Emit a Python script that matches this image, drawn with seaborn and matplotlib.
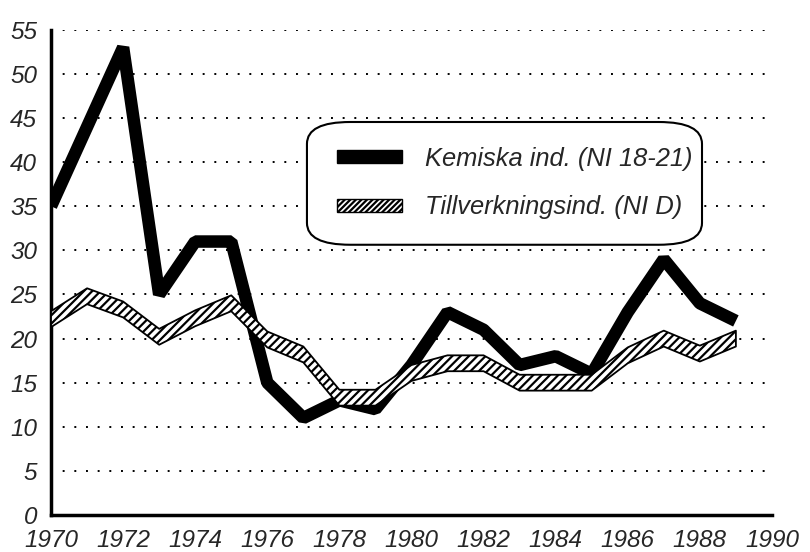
import matplotlib
matplotlib.use('Agg')
import matplotlib.pyplot as plt
import seaborn as sns
import pandas as pd
from matplotlib.patches import Patch, Rectangle, FancyBboxPatch
from matplotlib.legend_handler import HandlerPatch

# Data
years = list(range(1970, 1990))
kemiska = [35, 44, 53, 25, 31, 31, 15, 11, 13, 12, 17, 23, 21, 17, 18, 16, 23, 29, 24, 22]
tillverkning = [22.2, 24.8, 23.3, 20.2, 22.3, 24.0, 19.9, 18.2, 13.3, 13.3, 16.1, 17.2, 17.2, 15.0, 15.0, 15.0, 18.1, 20.0, 18.3, 20.0]
yticks = list(range(0, 60, 5))
xticks = list(range(1970, 1992, 2))

label_kem = 'Kemiska ind. (NI 18-21)'
label_till = 'Tillverkningsind. (NI D)'

df = pd.DataFrame({'År': years, 'Kemiska': kemiska, 'Tillverkning': tillverkning})

sns.set_style('white')
plt.rcParams['font.family'] = ['Liberation Sans', 'DejaVu Sans']
plt.rcParams['font.style'] = 'italic'
plt.rcParams['hatch.linewidth'] = 1.6

fig = plt.figure(figsize=(8.1, 5.52), dpi=100)
ax = fig.add_axes([0.063, 0.067, 0.890, 0.879])

# dotted grid lines
for v in yticks[1:]:
    ax.axhline(v, color='black', lw=1.4, linestyle=(0, (1, 5)), zorder=1)

# black thick line
sns.lineplot(data=df, x='År', y='Kemiska', ax=ax, color='black', lw=9,
             solid_joinstyle='bevel', solid_capstyle='butt', zorder=3)

# hatched band
half = 0.9
ax.fill_between(df['År'], df['Tillverkning'] - half, df['Tillverkning'] + half,
                facecolor='white', edgecolor='black', hatch='////', lw=1.3, zorder=4)

ax.set_xlim(1970, 1990)
ax.set_ylim(0, 55)
ax.set_xticks(xticks)
ax.set_yticks(yticks)
ax.set_xlabel('')
ax.set_ylabel('')

for s in ['top', 'right']:
    ax.spines[s].set_visible(False)
for s in ['left', 'bottom']:
    ax.spines[s].set_linewidth(2.5)
    ax.spines[s].set_color('black')

ax.tick_params(axis='x', direction='out', length=8, width=2.5, labelsize=17.5, pad=2)
ax.tick_params(axis='y', direction='out', length=8, width=2, labelsize=17.5, pad=2)

# rounded legend frame
box = FancyBboxPatch((0.355, 0.557), 0.548, 0.253, transform=ax.transAxes,
                     boxstyle='round,pad=0,rounding_size=0.06', mutation_aspect=0.75,
                     facecolor='white', edgecolor='black', lw=1.5, zorder=5)
ax.add_patch(box)


def small_rect(legend, orig_handle, xdescent, ydescent, width, height, fontsize):
    return Rectangle((-xdescent, -ydescent + height * 0.1), width, height * 0.8)


handles = [Patch(facecolor='black', edgecolor='black', label=label_kem),
           Patch(facecolor='white', edgecolor='black', hatch='//////', label=label_till)]
leg = ax.legend(handles=handles, loc='upper left', bbox_to_anchor=(0.397, 0.759),
                prop={'style': 'italic', 'size': 18.4}, frameon=False,
                handlelength=2.55, handleheight=0.6, handletextpad=0.9,
                labelspacing=0.96, borderpad=0, borderaxespad=0,
                handler_map={Patch: HandlerPatch(patch_func=small_rect)})
leg.set_zorder(6)

fig.savefig('out.png', dpi=100)
